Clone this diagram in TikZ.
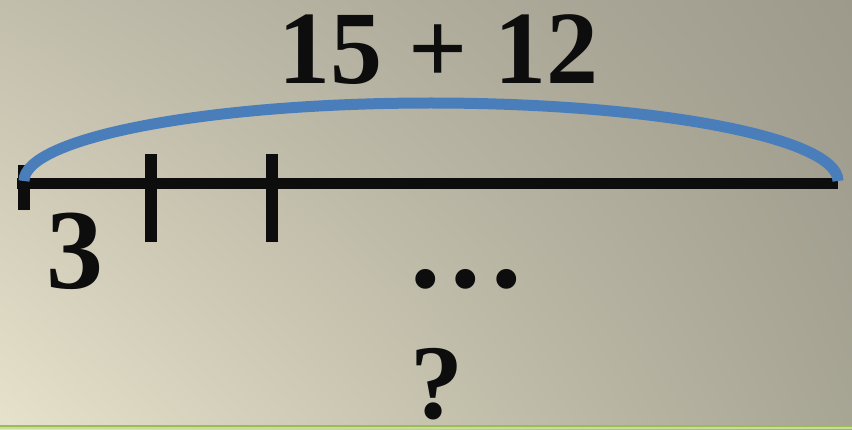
\documentclass[tikz,border=0pt]{standalone}
\usepackage{fontspec}
\setmainfont{Liberation Serif}
\usetikzlibrary{shadings}
\definecolor{bgUL}{HTML}{C2BEAC}
\definecolor{bgUR}{HTML}{9D9A8C}
\definecolor{bgLL}{HTML}{E7E2CB}
\definecolor{bgLR}{HTML}{A7A594}
\definecolor{arcblue}{HTML}{4A7EBB}
\definecolor{ink}{HTML}{0D0D0D}
\definecolor{greenbar}{HTML}{9BBB59}
\definecolor{greenlite}{HTML}{C9DD9A}
\begin{document}
\begin{tikzpicture}[x=1pt,y=1pt,
  numtext/.style={inner sep=0pt, anchor=base, text=ink, font=\bfseries\fontsize{#1}{#1}\selectfont},
  axisline/.style={draw=ink, line width=11pt},
  tickmark/.style={draw=ink, line width=12pt},
  brace/.style={draw=arcblue, line width=11pt}]
\useasboundingbox (0,0) rectangle (852,429);
\shade[upper left=bgUL, upper right=bgUR, lower left=bgLL, lower right=bgLR] (0,0) rectangle (852,429);
% axis
\coordinate (L) at (17,245);
\coordinate (R) at (838,245);
\draw[axisline] (L) -- (R);
\coordinate (t0a) at (23.5,264);
\coordinate (t0b) at (23.5,219);
\coordinate (t1a) at (150.5,275);
\coordinate (t1b) at (150.5,187);
\coordinate (t2a) at (272,275);
\coordinate (t2b) at (272,187);
\draw[tickmark] (t0a) -- (t0b);
\draw[tickmark] (t1a) -- (t1b);
\draw[tickmark] (t2a) -- (t2b);
% arc
\coordinate (arcL) at (24,248);
\draw[brace] (arcL) arc[start angle=180, end angle=0, x radius=407, y radius=78];
% texts
\node[numtext=104] (sum) at (438.5,345) {15 + 12};
\node[numtext=114] (three) at (75,140) {3};
\node[numtext=122] (dots) at (466,142) {.\kern10pt.\kern10pt.};
\node[numtext=106] (q) at (436.5,11) {?};
% bottom bar
\fill[greenlite] (0,0) rectangle (852,2.5);
\fill[greenbar] (0,2.5) rectangle (852,4);
\end{tikzpicture}
\end{document}
